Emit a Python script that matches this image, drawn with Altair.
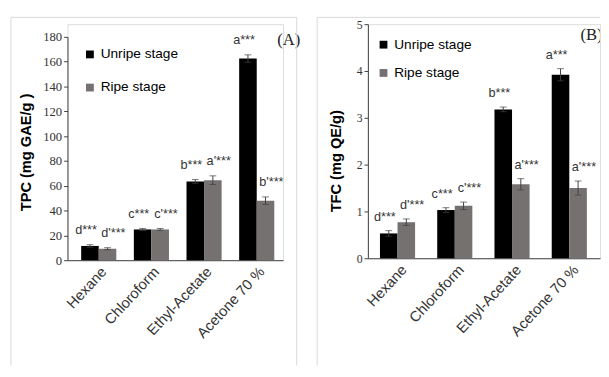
import altair as alt
import pandas as pd

categories = ["Hexane", "Chloroform", "Ethyl-Acetate", "Acetone 70 %"]
stages = ["Unripe stage", "Ripe stage"]
stage_colors = ["#000000", "#767171"]

tpc_unripe = [11.5, 24.8, 63.5, 162.5]
tpc_unripe_err = [1.0, 0.8, 1.5, 3.0]
tpc_ripe = [9.3, 24.8, 64.5, 48.0]
tpc_ripe_err = [0.8, 0.8, 3.5, 3.0]
tpc_unripe_sig = ["d***", "c***", "b***", "a***"]
tpc_ripe_sig = ["d'***", "c'***", "a'***", "b'***"]

tfc_unripe = [0.53, 1.03, 3.18, 3.92]
tfc_unripe_err = [0.06, 0.05, 0.05, 0.13]
tfc_ripe = [0.77, 1.12, 1.58, 1.50]
tfc_ripe_err = [0.07, 0.08, 0.12, 0.15]
tfc_unripe_sig = ["d***", "c***", "b***", "a***"]
tfc_ripe_sig = ["d'***", "c'***", "a'***", "a'***"]

tpc_ticks = [0, 20, 40, 60, 80, 100, 120, 140, 160, 180]
tfc_ticks = [0, 1, 2, 3, 4, 5]


def make_df(u, ue, r, re, us, rs):
    rows = []
    for i, c in enumerate(categories):
        rows.append(dict(cat=c, stage=stages[0], val=u[i], lo=u[i] - ue[i], hi=u[i] + ue[i], sig=us[i]))
        rows.append(dict(cat=c, stage=stages[1], val=r[i], lo=r[i] - re[i], hi=r[i] + re[i], sig=rs[i]))
    return pd.DataFrame(rows)


def panel(df, ytitle, ydomain, yticks, yrange, width, height, band, tick_font_size,
          title_xy, legend_xy, row_pad, letter, letter_xy, letter_clip, border, label_dy):
    x = alt.X("cat:N", sort=categories, title=None,
              scale=alt.Scale(paddingInner=band[0], paddingOuter=band[1], align=band[2]),
              axis=alt.Axis(labelAngle=-47, labelAlign="right", labelBaseline="top",
                            labelFont="Liberation Sans", labelFontSize=15, labelColor="#333333",
                            labelPadding=4, labelOffset=0, ticks=False, tickSize=0,
                            domainColor="#404040", labelOverlap=False))
    xo = alt.XOffset("stage:N", sort=stages, scale=alt.Scale(paddingInner=0, paddingOuter=0))
    yscale = alt.Scale(domain=ydomain, range=yrange, nice=False, zero=True)
    yaxis = alt.Axis(values=yticks, grid=False, tickSize=4, tickColor="#404040",
                     domainColor="#404040", labelFont="Liberation Serif",
                     labelFontSize=tick_font_size, labelColor="#333333", labelPadding=2,
                     labelOverlap=False,
                     titleFont="Liberation Sans", titleFontSize=15, titleFontWeight="bold",
                     titleColor="#000000", titleX=title_xy[0], titleY=title_xy[1],
                     titleAngle=-90, titleAlign="center", titleBaseline="middle")

    def Y(field):
        return alt.Y(field, title=ytitle, scale=yscale, axis=yaxis)

    base = alt.Chart(df)
    bars = base.mark_bar().encode(
        x=x, xOffset=xo, y=Y("val:Q"),
        color=alt.Color("stage:N", sort=stages,
                        scale=alt.Scale(domain=stages, range=stage_colors),
                        legend=alt.Legend(orient="none", legendX=legend_xy[0], legendY=legend_xy[1],
                                          title=None, symbolType="square", symbolSize=64,
                                          symbolStrokeWidth=0, labelFont="Liberation Sans",
                                          labelFontSize=14, labelColor="#000000", labelOffset=4,
                                          rowPadding=row_pad)))
    err = base.mark_rule(color="#404040", strokeWidth=1).encode(
        x=x, xOffset=xo, y=Y("lo:Q"), y2="hi:Q")
    cap_hi = base.mark_tick(color="#404040", thickness=1, size=7, orient="horizontal").encode(
        x=x, xOffset=xo, y=Y("hi:Q"))
    cap_lo = base.mark_tick(color="#404040", thickness=1, size=7, orient="horizontal").encode(
        x=x, xOffset=xo, y=Y("lo:Q"))
    lab_u = base.transform_filter(alt.datum.stage == stages[0]).mark_text(
        font="Liberation Sans", fontSize=13, color="#333333", dx=-4, dy=label_dy, baseline="alphabetic").encode(
        x=x, xOffset=xo, y=Y("hi:Q"), text="sig:N")
    lab_r = base.transform_filter(alt.datum.stage == stages[1]).mark_text(
        font="Liberation Sans", fontSize=13, color="#333333", dx=6, dy=label_dy, baseline="alphabetic").encode(
        x=x, xOffset=xo, y=Y("hi:Q"), text="sig:N")

    one = alt.Chart(pd.DataFrame({"k": [0]}))
    bl, bt, br, bb, right_edge = border
    frame = [
        one.mark_rule(color="#d9d9d9", strokeWidth=1).encode(
            x=alt.value(bl), y=alt.value(bt), y2=alt.value(bb)),
        one.mark_rule(color="#d9d9d9", strokeWidth=1).encode(
            x=alt.value(bl), x2=alt.value(br), y=alt.value(bt)),
    ]
    if right_edge:
        frame.append(one.mark_rule(color="#d9d9d9", strokeWidth=1).encode(
            x=alt.value(br), y=alt.value(bt), y2=alt.value(bb)))
    ltr = one.mark_text(text=letter, font="Liberation Serif", fontSize=17, color="#222222",
                        align="left", baseline="alphabetic", clip=letter_clip).encode(
        x=alt.value(letter_xy[0]), y=alt.value(letter_xy[1]))
    return alt.layer(bars, err, cap_hi, cap_lo, lab_u, lab_r, ltr, *frame).properties(
        width=width, height=height)


df_a = make_df(tpc_unripe, tpc_unripe_err, tpc_ripe, tpc_ripe_err, tpc_unripe_sig, tpc_ripe_sig)
df_b = make_df(tfc_unripe, tfc_unripe_err, tfc_ripe, tfc_ripe_err, tfc_unripe_sig, tfc_ripe_sig)

pa = panel(df_a, "TPC (mg GAE/g  )", [0, 180], tpc_ticks, [242, 13], 221, 242,
           (0.333, 0.213, 0.61), 13, (-43, 131), (16, 24), 20, "(A)", (215, 21), False,
           (-58, -7, 235, 350, True), -11)
pb = panel(df_b, "TFC (mg QE/g)", [0, 5], tfc_ticks, [240, 0], 238, 240,
           (0.336, 0.195, 0.54), 12, (-33, 140), (9, 14), 15, "(B)", (218, 16), True,
           (-52, -7, 238, 350, False), -10)

chart = alt.hconcat(pa, pb, spacing=15).resolve_scale(color="independent").properties(
    padding={"left": 2, "top": 4, "right": 0, "bottom": 0}
).configure_view(stroke=None).configure(background="white")

chart.save("out.html", embed_options={"renderer": "svg", "actions": False})
